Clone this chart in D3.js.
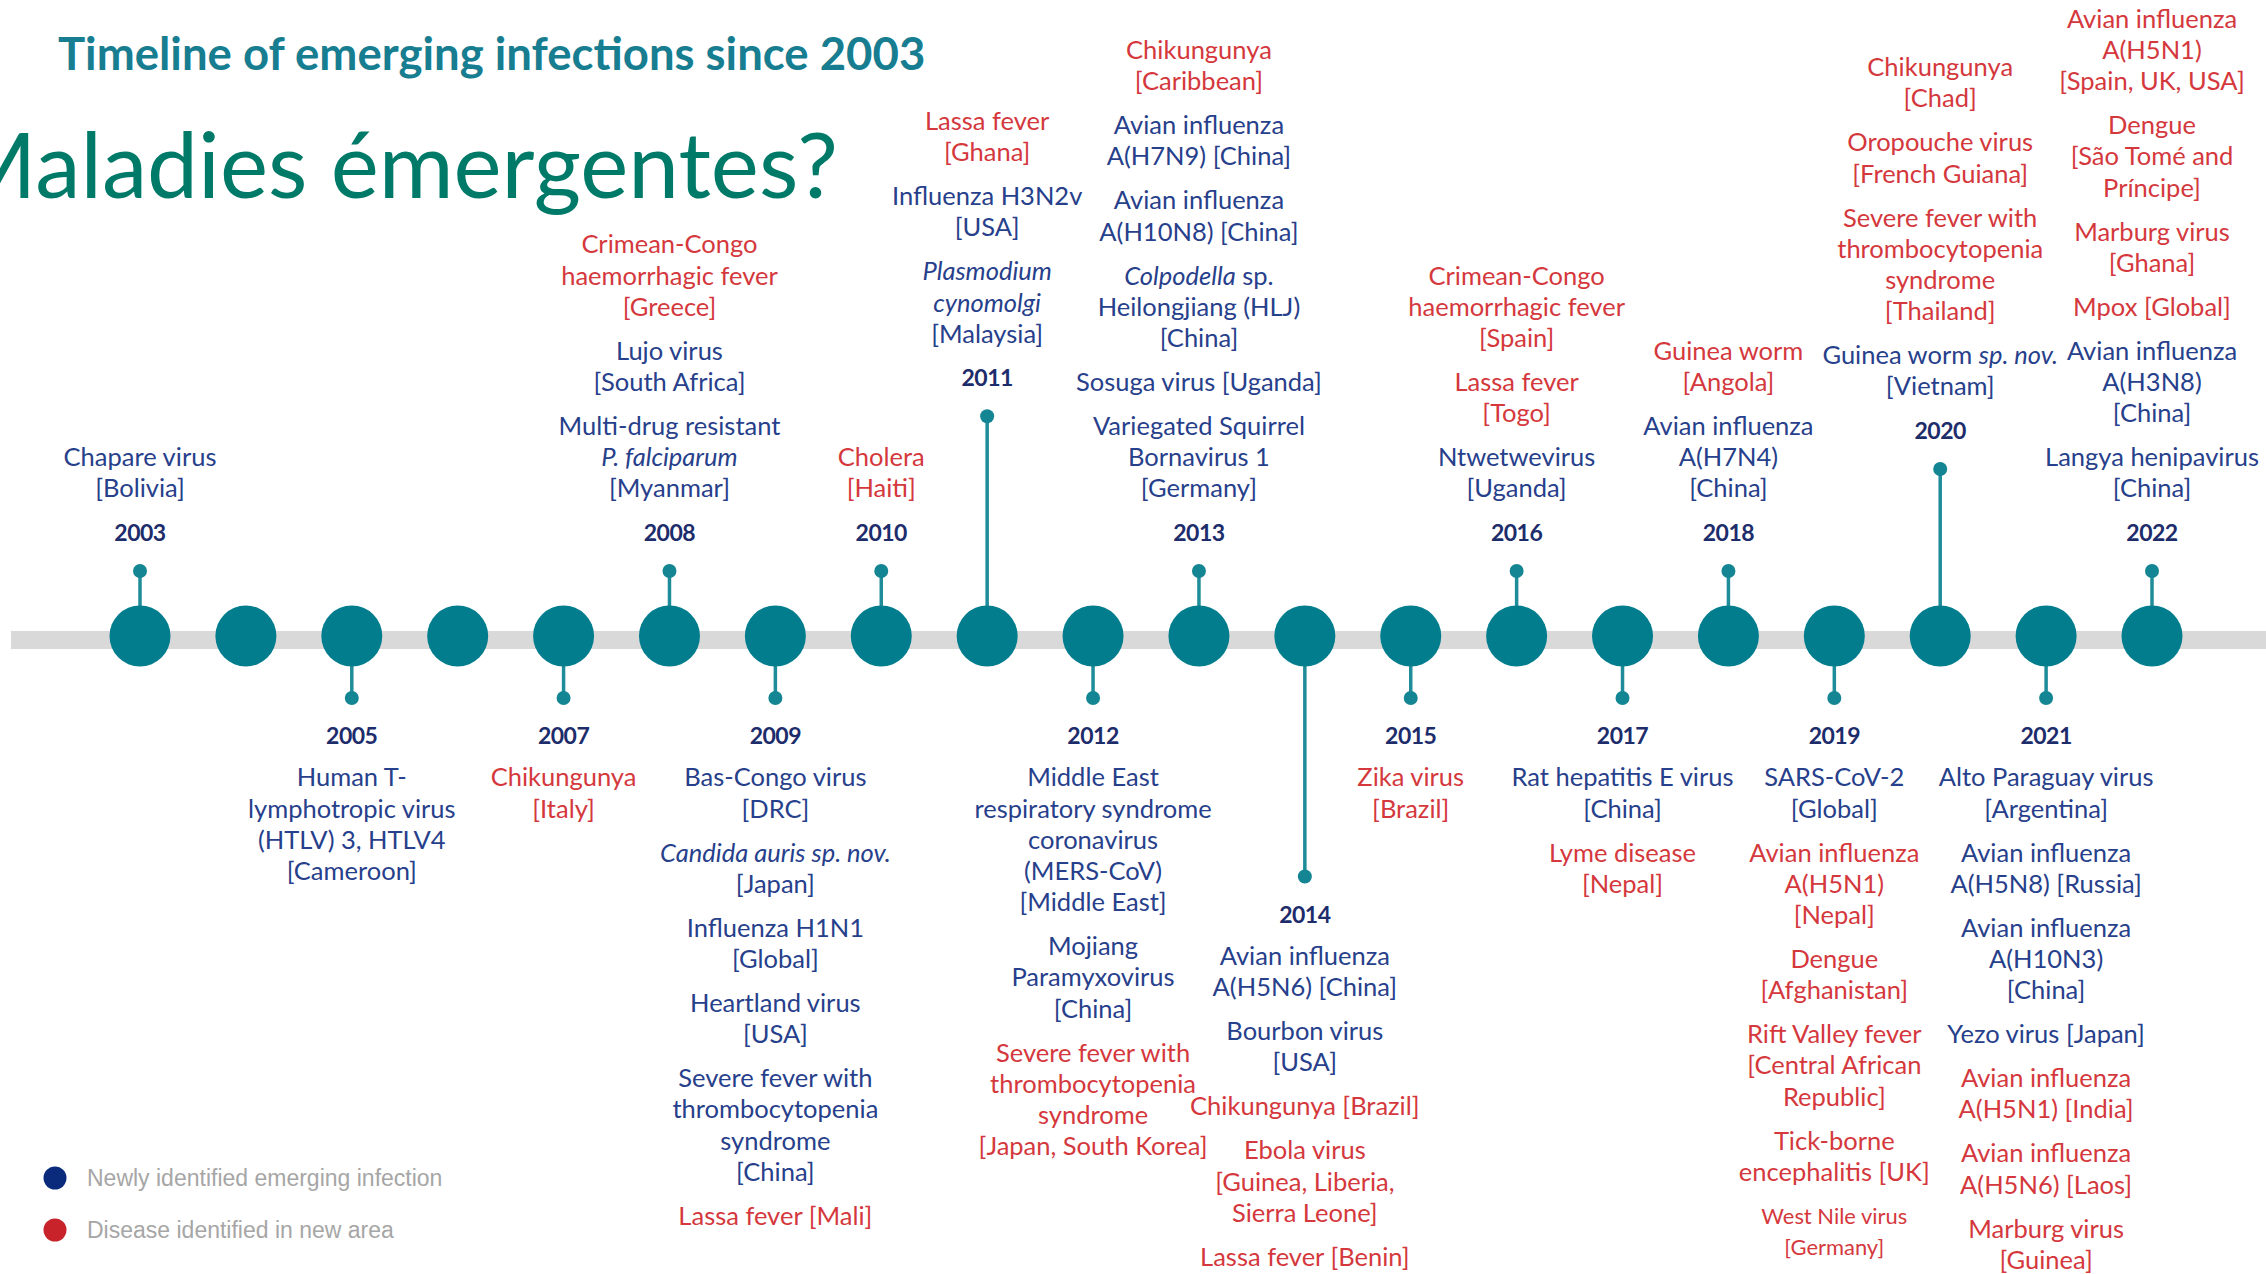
<!DOCTYPE html>
<html><head><meta charset="utf-8">
<script src="https://cdn.jsdelivr.net/npm/d3@7"></script>
<style>html,body{margin:0;padding:0;background:#fff;overflow:hidden}</style>
</head><body>
<svg id="chart" width="2266" height="1274"></svg>
<script>
// ---------------- data ----------------
const years = [2003,2004,2005,2006,2007,2008,2009,2010,2011,2012,2013,2014,2015,2016,2017,2018,2019,2020,2021,2022];
const yearSide = ["up",null,"down",null,"down","up","down","up","up","down","up","down","down","up","down","up","down","up","down","up"];
const stemTier = [1,0,1,0,1,1,1,1,3.38,1,1,3.88,1,1,1,1,1,2.57,1,1];
const typeNames = {"new":"Newly identified emerging infection","area":"Disease identified in new area"};
// events per year, listed top-to-bottom; _text_ = italic
const events = [
  {year:2003,type:"new",lines:["Chapare virus","[Bolivia]"]},
  {year:2005,type:"new",lines:["Human T-","lymphotropic virus","(HTLV) 3, HTLV4","[Cameroon]"]},
  {year:2007,type:"area",lines:["Chikungunya","[Italy]"]},
  {year:2008,type:"area",lines:["Crimean-Congo","haemorrhagic fever","[Greece]"]},
  {year:2008,type:"new",lines:["Lujo virus","[South Africa]"]},
  {year:2008,type:"new",lines:["Multi-drug resistant","_P. falciparum_","[Myanmar]"]},
  {year:2009,type:"new",lines:["Bas-Congo virus","[DRC]"]},
  {year:2009,type:"new",lines:["_Candida auris sp. nov._","[Japan]"]},
  {year:2009,type:"new",lines:["Influenza H1N1","[Global]"]},
  {year:2009,type:"new",lines:["Heartland virus","[USA]"]},
  {year:2009,type:"new",lines:["Severe fever with","thrombocytopenia","syndrome","[China]"]},
  {year:2009,type:"area",lines:["Lassa fever [Mali]"]},
  {year:2010,type:"area",lines:["Cholera","[Haiti]"]},
  {year:2011,type:"area",lines:["Lassa fever","[Ghana]"]},
  {year:2011,type:"new",lines:["Influenza H3N2v","[USA]"]},
  {year:2011,type:"new",lines:["_Plasmodium_","_cynomolgi_","[Malaysia]"]},
  {year:2012,type:"new",lines:["Middle East","respiratory syndrome","coronavirus","(MERS-CoV)","[Middle East]"]},
  {year:2012,type:"new",lines:["Mojiang","Paramyxovirus","[China]"]},
  {year:2012,type:"area",lines:["Severe fever with","thrombocytopenia","syndrome","[Japan, South Korea]"]},
  {year:2013,type:"area",lines:["Chikungunya","[Caribbean]"]},
  {year:2013,type:"new",lines:["Avian influenza","A(H7N9) [China]"]},
  {year:2013,type:"new",lines:["Avian influenza","A(H10N8) [China]"]},
  {year:2013,type:"new",lines:["_Colpodella_ sp.","Heilongjiang (HLJ)","[China]"]},
  {year:2013,type:"new",lines:["Sosuga virus [Uganda]"]},
  {year:2013,type:"new",lines:["Variegated Squirrel","Bornavirus 1","[Germany]"]},
  {year:2014,type:"new",lines:["Avian influenza","A(H5N6) [China]"]},
  {year:2014,type:"new",lines:["Bourbon virus","[USA]"]},
  {year:2014,type:"area",lines:["Chikungunya [Brazil]"]},
  {year:2014,type:"area",lines:["Ebola virus","[Guinea, Liberia,","Sierra Leone]"]},
  {year:2014,type:"area",lines:["Lassa fever [Benin]"]},
  {year:2015,type:"area",lines:["Zika virus","[Brazil]"]},
  {year:2016,type:"area",lines:["Crimean-Congo","haemorrhagic fever","[Spain]"]},
  {year:2016,type:"area",lines:["Lassa fever","[Togo]"]},
  {year:2016,type:"new",lines:["Ntwetwevirus","[Uganda]"]},
  {year:2017,type:"new",lines:["Rat hepatitis E virus","[China]"]},
  {year:2017,type:"area",lines:["Lyme disease","[Nepal]"]},
  {year:2018,type:"area",lines:["Guinea worm","[Angola]"]},
  {year:2018,type:"new",lines:["Avian influenza","A(H7N4)","[China]"]},
  {year:2019,type:"new",lines:["SARS-CoV-2","[Global]"]},
  {year:2019,type:"area",lines:["Avian influenza","A(H5N1)","[Nepal]"]},
  {year:2019,type:"area",lines:["Dengue","[Afghanistan]"]},
  {year:2019,type:"area",lines:["Rift Valley fever","[Central African","Republic]"]},
  {year:2019,type:"area",lines:["Tick-borne","encephalitis [UK]"]},
  {year:2019,type:"area",small:true,lines:["West Nile virus","[Germany]"]},
  {year:2020,type:"area",lines:["Chikungunya","[Chad]"]},
  {year:2020,type:"area",lines:["Oropouche virus","[French Guiana]"]},
  {year:2020,type:"area",lines:["Severe fever with","thrombocytopenia","syndrome","[Thailand]"]},
  {year:2020,type:"new",lines:["Guinea worm _sp. nov._","[Vietnam]"]},
  {year:2021,type:"new",lines:["Alto Paraguay virus","[Argentina]"]},
  {year:2021,type:"new",lines:["Avian influenza","A(H5N8) [Russia]"]},
  {year:2021,type:"new",lines:["Avian influenza","A(H10N3)","[China]"]},
  {year:2021,type:"new",lines:["Yezo virus [Japan]"]},
  {year:2021,type:"area",lines:["Avian influenza","A(H5N1) [India]"]},
  {year:2021,type:"area",lines:["Avian influenza","A(H5N6) [Laos]"]},
  {year:2021,type:"area",lines:["Marburg virus","[Guinea]"]},
  {year:2022,type:"area",lines:["Avian influenza","A(H5N1)","[Spain, UK, USA]"]},
  {year:2022,type:"area",lines:["Dengue","[São Tomé and","Príncipe]"]},
  {year:2022,type:"area",lines:["Marburg virus","[Ghana]"]},
  {year:2022,type:"area",lines:["Mpox [Global]"]},
  {year:2022,type:"new",lines:["Avian influenza","A(H3N8)","[China]"]},
  {year:2022,type:"new",lines:["Langya henipavirus","[China]"]}
];
const titleText = "Timeline of emerging infections since 2003";
const headingText = "Maladies émergentes?";

// ---------------- styles / layout ----------------
const W = 2266, H = 1274;
const colors = {new:"#27408b", area:"#d4383d", year:"#1d2c6b", teal:"#027d8e", stem:"#1f8c99", band:"#d9d9d9",
  legendNew:"#0a2b7c", legendArea:"#c8232b", legendText:"#a6a6a6"};
const FONT = "Lato, 'Noto Sans', sans-serif";
const fs = 25.5, lineH = 31.2, entryStep = 44;

const svg = d3.select("#chart");
const x = d3.scaleLinear().domain([2003, 2022]).range([140, 2152]);
const cy = 636;
const stemY = {up: d3.scaleLinear().domain([0,1]).range([cy, cy-65]),
               down: d3.scaleLinear().domain([0,1]).range([cy, cy+62])};

// title & heading
svg.append("text").attr("x",58).attr("y",70).attr("font-family",FONT).attr("font-weight",700)
  .attr("font-size",45.5).attr("fill","#177d90").text(titleText);
svg.append("text").attr("x",838).attr("y",198).attr("text-anchor","end").attr("font-family",FONT)
  .attr("font-size",91).attr("fill","#007a68").text(headingText);

// band
svg.append("rect").attr("x",11).attr("y",631).attr("width",W-11).attr("height",18).attr("fill",colors.band);

const yd = years.map((y,i)=>({year:y, side:yearSide[i], tier:stemTier[i]}));
const labeled = yd.filter(d=>d.side);
labeled.forEach(d=>{ d.dotY = stemY[d.side](d.tier); d.labelY = d.side==="up" ? d.dotY-38 : d.dotY+38; });

svg.selectAll("line.stem").data(labeled).join("line").attr("class","stem")
  .attr("x1",d=>x(d.year)).attr("x2",d=>x(d.year)).attr("y1",cy).attr("y2",d=>d.dotY)
  .attr("stroke",colors.stem).attr("stroke-width",3.5);
svg.selectAll("circle.yr").data(yd).join("circle").attr("class","yr")
  .attr("cx",d=>x(d.year)).attr("cy",cy).attr("r",30.5).attr("fill",colors.teal);
svg.selectAll("circle.dot").data(labeled).join("circle").attr("class","dot")
  .attr("cx",d=>x(d.year)).attr("cy",d=>d.dotY).attr("r",7).attr("fill","#148592");

svg.selectAll("text.year").data(labeled).join("text").attr("class","year")
  .attr("x",d=>x(d.year)).attr("y",d=>d.labelY+8).attr("text-anchor","middle")
  .attr("font-family",FONT).attr("font-weight",700).attr("font-size",23).attr("letter-spacing",-0.5)
  .attr("fill",colors.year).text(d=>d.year);

// event text blocks
function addLine(g, str, cx, cyLine, color, size){
  const t = g.append("text").attr("x",cx).attr("y",cyLine + 0.33*size).attr("text-anchor","middle")
    .attr("font-family",FONT).attr("font-size",size).attr("fill",color);
  str.split("_").forEach((seg,i)=>{ if(seg.length) t.append("tspan").attr("font-style", i%2 ? "italic":"normal").text(seg); });
}
const gText = svg.append("g");
labeled.forEach(d=>{
  const evs = events.filter(e=>e.year===d.year);
  const rows = [];
  let off = 0;
  evs.forEach((e,ei)=>{
    if(ei>0) off += entryStep - lineH;
    e.lines.forEach((ln,li)=>{
      if(ei>0 || li>0) off += lineH;
      rows.push({text:ln, off, color:colors[e.type], size: e.small ? fs*0.86 : fs});
    });
  });
  const total = off;
  const start = d.side==="up" ? d.labelY - 44 - total : d.labelY + 42;
  rows.forEach(r=> addLine(gText, r.text, x(d.year), start + r.off, r.color, r.size));
});

// legend
const legend = [{type:"new", color:colors.legendNew},{type:"area", color:colors.legendArea}];
const ly = d3.scalePoint().domain(legend.map(l=>l.type)).range([1178,1230]);
const lg = svg.append("g");
lg.selectAll("circle").data(legend).join("circle").attr("cx",55).attr("cy",d=>ly(d.type)).attr("r",11.5).attr("fill",d=>d.color);
lg.selectAll("text").data(legend).join("text").attr("x",87).attr("y",d=>ly(d.type)+8)
  .attr("font-family","'Liberation Sans', Arial, sans-serif").attr("font-size",23).attr("fill",colors.legendText)
  .text(d=>typeNames[d.type]);
</script>
</body></html>
